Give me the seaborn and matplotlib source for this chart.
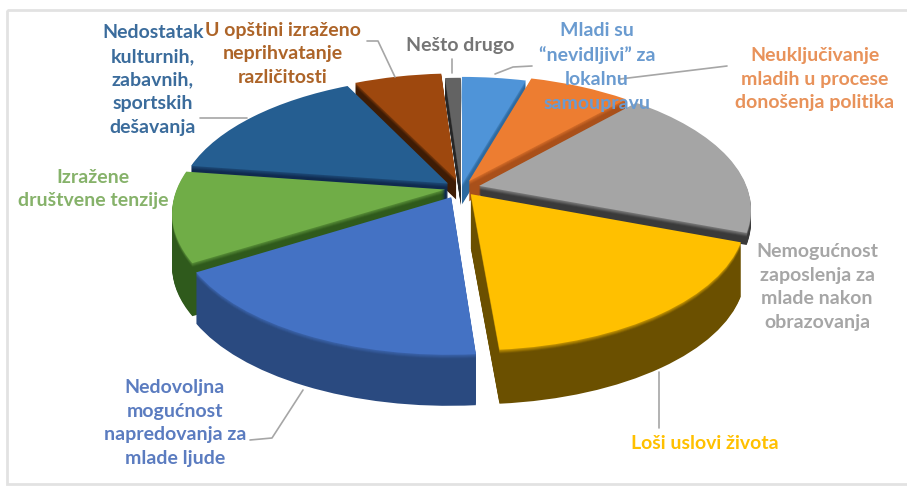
import matplotlib
matplotlib.use("Agg")
import matplotlib.pyplot as plt
import matplotlib.transforms as mtransforms
from matplotlib.patches import Rectangle
import numpy as np
import seaborn as sns

# percentages, clockwise from 12 o'clock
values = [4.5, 7.2, 19.0, 18.0, 17.5, 11.1, 15.4, 6.2, 1.1]
explode = [0.03, 0.06, 0.07, 0.06, 0.08, 0.06, 0.06, 0.07, 0.02]
top_colors = ["#4f94d8", "#ed7d31", "#a5a5a5", "#ffc000", "#4472c4", "#70ad47", "#255e91", "#9e480e", "#636363"]
side_colors = ["#2e6aa0", "#a9501a", "#3a3a3a", "#6b5000", "#2a4a80", "#2f5a1c", "#0f2a4f", "#3e1c05", "#262626"]
side_depth = [20, 20, 12, 54, 51, 53, 20, 20, 20]


class Perspective(mtransforms.Transform):
    input_dims = 2
    output_dims = 2

    def __init__(self, k):
        super().__init__()
        self.k = k

    def transform_non_affine(self, xy):
        xy = np.asarray(xy)
        w = 1 + self.k * xy[:, 1]
        return np.column_stack([xy[:, 0] / w, xy[:, 1] / w])


sns.set_theme(style="white")
plt.rcParams["font.family"] = ["Lato", "DejaVu Sans"]

fig = plt.figure(figsize=(9.07, 4.86), dpi=100)
ax = fig.add_axes([0, 0, 1, 1])

persp = Perspective(0.172)
ramps = [sns.blend_palette([t, s, s], 14) for t, s in zip(top_colors, side_colors)]

# stack of pies from the bottom up gives the extruded look
for dz in range(max(side_depth), -1, -1):
    colors = []
    for i, ramp in enumerate(ramps):
        colors.append(top_colors[i] if dz == 0 else ramp[min(dz + 2, len(ramp) - 1)])
    wedges, _ = ax.pie(values, explode=explode, colors=colors, startangle=90, counterclock=False,
                       wedgeprops={"linewidth": 0})
    place = mtransforms.Affine2D().scale(268, -127).translate(461, 188 + dz)
    for w, d in zip(wedges, side_depth):
        w.set_transform(persp + place + ax.transData)
        w.set_visible(dz <= d)

ax.set_aspect("auto")
ax.set_xlim(0, 907)
ax.set_ylim(486, 0)

ax.add_patch(Rectangle((7, 10), 920, 474, fill=False, edgecolor="#e2e2e2", linewidth=2))

labels = [
    ("Mladi su\n“nevidljivi” za\nlokalnu\nsamoupravu", 597, 67, "#6a9bd0"),
    ("Neuključivanje\nmladih u procese\ndonošenja politika", 815, 79, "#e8925a"),
    ("Nemogućnost\nzaposlenja za\nmlade nakon\nobrazovanja", 817, 287, "#a6a6a6"),
    ("Loši uslovi života", 705, 443, "#ffc000"),
    ("Nedovoljna\nmogućnost\nnapredovanja za\nmlade ljude", 175, 423, "#5b7cc0"),
    ("Izražene\ndruštvene tenzije", 93, 189, "#86b26a"),
    ("Nedostatak\nkulturnih,\nzabavnih,\nsportskih\ndešavanja", 153, 80, "#3b6c9c"),
    ("U opštini izraženo\nneprihvatanje\nrazličitosti", 283, 54, "#ad6428"),
    ("Nešto drugo", 460, 45, "#757575"),
]
for text, x, y, color in labels:
    ax.text(x, y, text, color=color, ha="center", va="center", fontsize=14, fontweight="bold",
            linespacing=1.47)

leaders = [
    ([452, 452], [59, 73]),
    ([495, 513, 532], [74, 67, 66]),
    ([620, 727], [79, 66]),
    ([367, 378, 395], [41, 41, 77]),
    ([200, 247], [118, 118]),
    ([250, 272, 303], [440, 438, 390]),
    ([659, 659], [372, 428]),
]
for xs, ys in leaders:
    ax.plot(xs, ys, color="#a6a6a6", linewidth=1.2)

plt.savefig("out.png", dpi=100)
